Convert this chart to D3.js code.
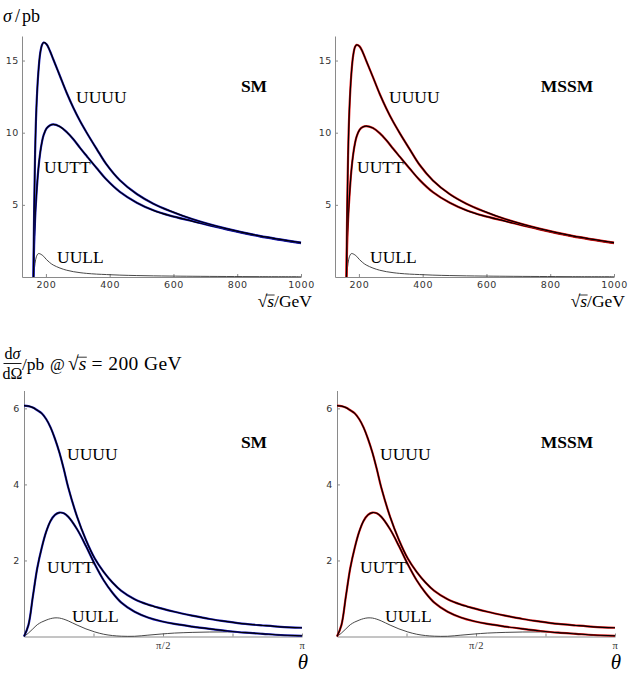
<!DOCTYPE html>
<html>
<head>
<meta charset="utf-8">
<script src="https://cdn.jsdelivr.net/npm/d3@7"></script>
<style>
  body { margin: 0; background: #fff; }
  .tick text { font-family: "DejaVu Sans", sans-serif; font-size: 9.5px; fill: #333; letter-spacing: 0.6px; }
  .axis path, .axis line { stroke: #8a8a8a; }
  .serif { font-family: "Liberation Serif", serif; fill: #000; }
</style>
</head>
<body>
<div id="chart"></div>
<script>
// total cross section vs sqrt(s)
const sqrtS = [161, 163, 166, 170, 176, 182, 188, 193, 202, 212, 223, 244, 265, 286, 307, 328, 359, 390, 432, 485, 537, 589, 661, 766, 870, 1000];
const smUUUU = [0, 4.5, 8.5, 11.6, 14.1, 15.5, 16.1, 16.25, 16.13, 15.7, 15.09, 13.93, 12.77, 11.73, 10.81, 10.0, 8.88, 7.8, 6.7, 5.75, 5.08, 4.58, 4.0, 3.35, 2.85, 2.38];
const smUUTT = [0, 2.2, 4.0, 5.6, 7.4, 8.6, 9.4, 9.85, 10.3, 10.5, 10.58, 10.42, 10.05, 9.55, 8.95, 8.38, 7.55, 6.75, 5.9, 5.15, 4.62, 4.25, 3.86, 3.3, 2.82, 2.35];
const smUULL = [0, 0.45, 0.95, 1.4, 1.62, 1.6, 1.52, 1.43, 1.2, 1.0, 0.83, 0.62, 0.47, 0.37, 0.3, 0.25, 0.2, 0.17, 0.13, 0.1, 0.08, 0.065, 0.05, 0.035, 0.025, 0.02];
const mssmUUUU = [0, 4.4, 8.4, 11.5, 14.0, 15.35, 15.95, 16.08, 15.98, 15.58, 14.98, 13.85, 12.7, 11.68, 10.77, 9.97, 8.86, 7.78, 6.69, 5.74, 5.08, 4.58, 4.0, 3.35, 2.85, 2.38];
const mssmUUTT = [0, 2.15, 3.95, 5.5, 7.3, 8.5, 9.3, 9.75, 10.2, 10.4, 10.46, 10.32, 9.97, 9.48, 8.9, 8.34, 7.52, 6.73, 5.88, 5.14, 4.62, 4.25, 3.86, 3.3, 2.82, 2.35];
const mssmUULL = smUULL;

// differential cross section vs theta at sqrt(s) = 200 GeV (SM and MSSM look the same here)
const theta = [0, 0.05, 0.1, 0.15, 0.2, 0.25, 0.3, 0.35, 0.4, 0.45, 0.5, 0.6, 0.7, 0.8, 0.9, 1.0, 1.1, 1.25, 1.4, 1.55, 1.7, 1.9, 2.1, 2.3, 2.5, 2.7, 2.9, Math.PI];
const dUUUU = [6.07, 6.06, 6.02, 5.95, 5.87, 5.72, 5.5, 5.2, 4.84, 4.4, 3.92, 3.15, 2.54, 2.05, 1.7, 1.42, 1.2, 0.98, 0.84, 0.74, 0.65, 0.55, 0.46, 0.39, 0.33, 0.29, 0.255, 0.23];
const dUUTT = [0, 0.3, 1.05, 1.8, 2.33, 2.75, 3.04, 3.2, 3.26, 3.24, 3.15, 2.82, 2.38, 1.9, 1.48, 1.15, 0.89, 0.65, 0.5, 0.4, 0.33, 0.26, 0.2, 0.145, 0.1, 0.07, 0.04, 0.02];
const dUULL = [0, 0.09, 0.2, 0.31, 0.38, 0.43, 0.47, 0.49, 0.485, 0.455, 0.41, 0.3, 0.2, 0.12, 0.06, 0.025, 0.008, 0.006, 0.035, 0.065, 0.09, 0.108, 0.118, 0.12, 0.11, 0.08, 0.04, 0];

const sYTicks = [5, 10, 15];
const sXTicks = [200, 400, 600, 800, 1000];
const dYTicks = [2, 4, 6];
const dXTicks = [Math.PI / 4, Math.PI / 2, 3 * Math.PI / 4, Math.PI];

const models = [
  { name: "SM", color: "#1c1cc0", dx: 0, uuuu: smUUUU, uutt: smUUTT, uull: smUULL },
  { name: "MSSM", color: "#e01212", dx: 313, uuuu: mssmUUUU, uutt: mssmUUTT, uull: mssmUULL }
];

let svg = d3.select("#chart").append("svg")
  .attr("width", 632)
  .attr("height", 681);

// helper for the sqrt(s) symbol with its bar
let sqrtText = function (g, x, y, size, suffix, anchor, spacing) {
  let t = g.append("text").attr("class", "serif")
    .attr("x", x).attr("y", y)
    .style("font-size", size + "px")
    .attr("text-anchor", anchor);
  t.append("tspan").text("\u221A");
  t.append("tspan").style("font-style", "italic").text("s");
  let rest = t.append("tspan").text(suffix);
  if (spacing) {
    rest.style("letter-spacing", spacing + "px");
  }
  let r0 = t.node().getExtentOfChar(0);
  let r1 = t.node().getExtentOfChar(1);
  let barY = r0.y + r0.height * 0.2;
  g.append("line")
    .attr("x1", r0.x + r0.width * 0.85).attr("x2", r1.x + r1.width + 0.5)
    .attr("y1", barY).attr("y2", barY)
    .attr("stroke", "#000").attr("stroke-width", 0.8);
};

let drawSeries = function (g, xs, ys, x, y, color) {
  let pts = xs.map((d, i) => [d, ys[i]]);
  let line = d3.line().x(d => x(d[0])).y(d => y(d[1])).curve(d3.curveCatmullRom.alpha(0.5));
  if (color) {
    g.append("path").attr("d", line(pts))
      .attr("fill", "none").attr("stroke", color).attr("stroke-width", 2.2);
    g.append("path").attr("d", line(pts))
      .attr("fill", "none").attr("stroke", "#000").attr("stroke-width", 1.2);
  } else {
    g.append("path").attr("d", line(pts))
      .attr("fill", "none").attr("stroke", "#333").attr("stroke-width", 0.9);
  }
};

let label = function (g, x, y, txt, bold) {
  g.append("text").attr("class", "serif")
    .attr("x", x).attr("y", y)
    .style("font-size", "17.5px")
    .style("font-weight", bold ? "bold" : "normal")
    .attr("text-anchor", bold ? "middle" : "start")
    .text(txt);
};

// top row
models.forEach(function (m) {
  let g = svg.append("g");
  let x = d3.scaleLinear().domain([125, 1000]).range([22 + m.dx, 301 + m.dx]);
  let y = d3.scaleLinear().domain([0, 16.7]).range([277, 36]);

  g.append("g").attr("class", "axis")
    .attr("transform", "translate(0,277)")
    .call(d3.axisBottom(x).tickValues(sXTicks).tickSize(-3).tickSizeOuter(0).tickPadding(4).tickFormat(d3.format("d")));
  g.append("g").attr("class", "axis")
    .attr("transform", "translate(" + (22 + m.dx) + ",0)")
    .call(d3.axisLeft(y).tickValues(sYTicks).tickSize(-3).tickSizeOuter(0).tickPadding(3).tickFormat(d3.format("d")));

  drawSeries(g, sqrtS, m.uull, x, y, null);
  drawSeries(g, sqrtS, m.uutt, x, y, m.color);
  drawSeries(g, sqrtS, m.uuuu, x, y, m.color);

  label(g, 76 + m.dx, 103, "UUUU");
  label(g, 44 + m.dx, 173, "UUTT");
  label(g, 57 + m.dx, 263, "UULL");
  label(g, 254 + m.dx, 92, m.name, true);

  sqrtText(g, 312 + m.dx, 307, 17.5, "/GeV", "end");
});

// sigma / pb title
let st = svg.append("text").attr("class", "serif")
  .attr("x", 3).attr("y", 22).style("font-size", "18px");
st.append("tspan").style("font-style", "italic").text("\u03C3");
st.append("tspan").attr("dx", 3).text("/");
st.append("tspan").attr("dx", 2).text("pb");

// bottom row
models.forEach(function (m) {
  let g = svg.append("g");
  let x = d3.scaleLinear().domain([0, Math.PI]).range([24 + m.dx, 302 + m.dx]);
  let y = d3.scaleLinear().domain([0, 6.47]).range([636.5, 390.5]);

  let xa = g.append("g").attr("class", "axis")
    .attr("transform", "translate(0,636.5)")
    .call(d3.axisBottom(x).tickValues(dXTicks).tickSize(-3).tickSizeOuter(0).tickPadding(5)
      .tickFormat(d => Math.abs(d - Math.PI / 2) < 1e-6 ? "\u03C0/2" : (Math.abs(d - Math.PI) < 1e-6 ? "\u03C0" : "")));
  xa.selectAll(".tick text")
    .style("font-family", "'Liberation Serif', serif")
    .style("font-size", "10.5px")
    .style("letter-spacing", "0.5px");
  g.append("g").attr("class", "axis")
    .attr("transform", "translate(" + (24 + m.dx) + ",0)")
    .call(d3.axisLeft(y).tickValues(dYTicks).tickSize(-3).tickSizeOuter(0).tickPadding(4).tickFormat(d3.format("d")));

  drawSeries(g, theta, dUULL, x, y, null);
  drawSeries(g, theta, dUUTT, x, y, m.color);
  drawSeries(g, theta, dUUUU, x, y, m.color);

  label(g, 67 + m.dx, 460, "UUUU");
  label(g, 47 + m.dx, 573, "UUTT");
  label(g, 72 + m.dx, 622, "UULL");
  label(g, 254 + m.dx, 448, m.name, true);

  g.append("text").attr("class", "serif")
    .attr("x", 308 + m.dx).attr("y", 669)
    .attr("text-anchor", "end")
    .style("font-size", "21px").style("font-style", "italic")
    .text("\u03B8");
});

// d sigma / d Omega title
let tg = svg.append("g");
tg.append("text").attr("class", "serif").attr("x", 12.5).attr("y", 359)
  .attr("text-anchor", "middle").style("font-size", "16px")
  .selectAll("tspan").data(["d", "\u03C3"]).enter().append("tspan")
  .style("font-style", (d, i) => i ? "italic" : "normal").text(d => d);
tg.append("line").attr("x1", 3.5).attr("x2", 21.5).attr("y1", 363.5).attr("y2", 363.5)
  .attr("stroke", "#000").attr("stroke-width", 0.9);
tg.append("text").attr("class", "serif").attr("x", 12.5).attr("y", 379)
  .attr("text-anchor", "middle").style("font-size", "16px").text("d\u03A9");
tg.append("text").attr("class", "serif").attr("x", 22).attr("y", 370)
  .style("font-size", "17.5px").text("/pb");
tg.append("text").attr("class", "serif").attr("x", 50).attr("y", 370)
  .style("font-size", "16px").text("@");
sqrtText(tg, 68, 370, 19.5, " = 200 GeV", "start", 0.4);
</script>
</body>
</html>
